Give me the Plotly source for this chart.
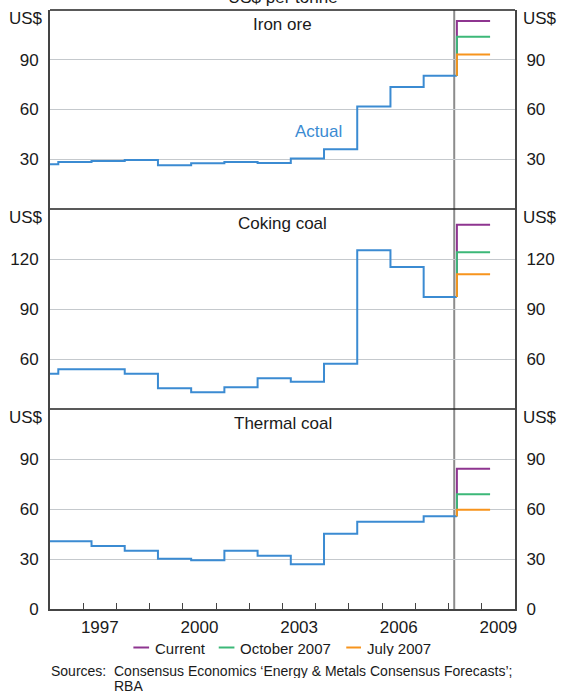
import plotly.graph_objects as go

# ---------------- data ----------------
fiscal_years = [1995, 1996, 1997, 1998, 1999, 2000, 2001, 2002, 2003, 2004, 2005, 2006, 2007]
forecast_year = 2008
current_date = 2008.17  # vertical line marking the present

iron_ore = [27.0, 28.4, 29.0, 29.6, 26.4, 27.6, 28.4, 27.8, 30.4, 36.0, 61.8, 73.6, 80.4]
coking_coal = [51.2, 53.8, 53.8, 51.2, 42.4, 40.0, 43.0, 48.4, 46.4, 57.2, 125.2, 115.2, 97.2]
thermal_coal = [40.6, 40.6, 37.8, 35.0, 30.2, 29.2, 35.0, 32.0, 26.8, 45.2, 52.4, 52.4, 55.6]

forecast_names = ["Current", "October 2007", "July 2007"]
forecast_colors = ["#8e3590", "#3cb878", "#f7941d"]
iron_ore_fc = [113.4, 103.8, 93.2]
coking_coal_fc = [140.6, 124.0, 110.8]
thermal_coal_fc = [84.2, 68.8, 59.6]

panel_titles = ["Iron ore", "Coking coal", "Thermal coal"]
panel_ranges = [[0, 120], [30, 150], [0, 120]]
panel_ticks = [[30, 60, 90], [60, 90, 120], [0, 30, 60, 90]]

x_label_years = [1997, 2000, 2003, 2006, 2009]
x_tick_years = list(range(1997, 2010))
x_range = [1996, 2010]

# ---------------- geometry ----------------
W, H = 565, 691
ml, mr, mt, mb = 49, 42, 10, 82
plot_h = H - mt - mb
plot_w = W - ml - mr
panel_px = [(10, 209), (209, 409), (409, 609)]


def py2paper(py):
    return (H - mb - py) / plot_h


def px2paper(px):
    return (px - ml) / plot_w


domains = [[py2paper(b), py2paper(t)] for (t, b) in panel_px]

ACTUAL = "#3b8bd2"
FONT = "Liberation Sans, Arial, sans-serif"
TXT = "#1a1a1a"
AX = "#444444"
GRID = "#c5c9cd"

fig = go.Figure()

series = [iron_ore, coking_coal, thermal_coal]
fcs = [iron_ore_fc, coking_coal_fc, thermal_coal_fc]
yrefs = ["y", "y2", "y3"]

for i in range(3):
    vals = series[i]
    xs = [fy + 0.25 for fy in fiscal_years] + [forecast_year + 0.25]
    ys = vals + [vals[-1]]
    fig.add_trace(go.Scatter(x=xs, y=ys, mode="lines", line=dict(color=ACTUAL, width=2, shape="hv"),
                             yaxis=yrefs[i], showlegend=False, hoverinfo="skip"))
    for k in range(3):
        fx = [forecast_year + 0.25, forecast_year + 0.25, forecast_year + 1.25]
        fy_ = [vals[-1], fcs[i][k], fcs[i][k]]
        fig.add_trace(go.Scatter(x=fx, y=fy_, mode="lines",
                                 line=dict(color=forecast_colors[k], width=2),
                                 yaxis=yrefs[i], showlegend=False, hoverinfo="skip"))
    # invisible trace for right-hand axis
    fig.add_trace(go.Scatter(x=[x_range[0]], y=[panel_ranges[i][0]], mode="markers",
                             marker=dict(opacity=0), yaxis="y%d" % (i + 4),
                             showlegend=False, hoverinfo="skip"))

layout = dict(
    width=W, height=H,
    margin=dict(l=ml, r=mr, t=mt, b=mb),
    paper_bgcolor="white", plot_bgcolor="white",
    font=dict(family=FONT, size=17, color=TXT),
    showlegend=False,
    hovermode=False,
    xaxis=dict(range=x_range, anchor="y3", showgrid=False, zeroline=False,
               showline=True, linecolor=AX, linewidth=2, fixedrange=True,
               tickmode="array", tickvals=[y + 0.5 for y in x_label_years],
               ticktext=[str(y) for y in x_label_years], ticks="",
               ticklabelstandoff=2,
               minor=dict(tickmode="array", tickvals=x_tick_years, ticks="inside",
                          ticklen=6, tickwidth=1, tickcolor=AX, showgrid=False)),
)

for i in range(3):
    base = "yaxis" if i == 0 else "yaxis%d" % (i + 1)
    common = dict(range=panel_ranges[i], domain=domains[i], tickmode="array",
                  tickvals=panel_ticks[i], ticktext=[str(v) for v in panel_ticks[i]],
                  zeroline=False, showline=True, linecolor=AX, linewidth=2,
                  ticks="", ticklabelstandoff=6, fixedrange=True)
    layout[base] = dict(common, anchor="x", side="left", showgrid=True,
                        gridcolor=GRID, gridwidth=1)
    layout["yaxis%d" % (i + 4)] = dict(common, anchor="x", side="right",
                                       overlaying="y" if i == 0 else "y%d" % (i + 1),
                                       showgrid=False)

fig.update_layout(**layout)

# panel borders (top and dividers)
for (t, b) in panel_px:
    fig.add_shape(type="line", xref="paper", yref="paper", x0=0, x1=1,
                  y0=py2paper(t), y1=py2paper(t), line=dict(color="#222222", width=1.5))

# vertical "now" line
fig.add_shape(type="line", xref="x", yref="paper", x0=current_date, x1=current_date,
              y0=0, y1=1, line=dict(color="#8c8c8c", width=2), layer="below")

annotations = []
# US$ unit labels
for (t, b) in panel_px:
    yy = py2paper(t)
    annotations.append(dict(text="US$", xref="paper", yref="paper", x=0, y=yy,
                            xanchor="right", yanchor="middle", xshift=-5, yshift=-8,
                            showarrow=False, font=dict(size=17)))
    annotations.append(dict(text="US$", xref="paper", yref="paper", x=1, y=yy,
                            xanchor="left", yanchor="middle", xshift=6, yshift=-8,
                            showarrow=False, font=dict(size=17)))
# panel titles
for i, (t, b) in enumerate(panel_px):
    annotations.append(dict(text=panel_titles[i], xref="paper", yref="paper", x=0.5,
                            y=py2paper(t), xanchor="center", yanchor="middle", yshift=-14,
                            showarrow=False, font=dict(size=17)))
# overall unit title (cut off at the top, as in the original)
annotations.append(dict(text="US$ per tonne", xref="paper", yref="paper", x=0.5, y=1,
                        xanchor="center", yanchor="bottom", yshift=1, showarrow=False,
                        font=dict(size=17)))
# Actual label
annotations.append(dict(text="Actual", xref="x", yref="y", x=2004.08, y=46.6,
                        xanchor="center", yanchor="middle", showarrow=False,
                        font=dict(size=17, color=ACTUAL)))

# manual legend
leg_y = py2paper(647.5)
leg_items = [(134, 150, 155), (221, 237, 242), (351, 366, 371)]
for k, (l0, l1, tx) in enumerate(leg_items):
    fig.add_shape(type="line", xref="paper", yref="paper", x0=px2paper(l0), x1=px2paper(l1),
                  y0=leg_y, y1=leg_y, line=dict(color=forecast_colors[k], width=2))
    annotations.append(dict(text=forecast_names[k], xref="paper", yref="paper",
                            x=px2paper(tx), y=leg_y, xanchor="left", yanchor="middle",
                            showarrow=False, borderpad=0, height=16, font=dict(size=15)))

# sources
src_rows = [670.5, 685.5]
annotations.append(dict(text="Sources:", xref="paper", yref="paper", x=px2paper(49),
                        y=py2paper(src_rows[0]), xanchor="left", yanchor="middle", showarrow=False,
                        borderpad=0, height=14, font=dict(size=14)))
annotations.append(dict(text="Consensus Economics \u2018Energy &amp; Metals Consensus Forecasts\u2019;",
                        xref="paper", yref="paper", x=px2paper(113), y=py2paper(src_rows[0]),
                        xanchor="left", yanchor="middle", showarrow=False, borderpad=0,
                        height=14, font=dict(size=14)))
annotations.append(dict(text="RBA", xref="paper", yref="paper", x=px2paper(113),
                        y=py2paper(src_rows[1]), xanchor="left", yanchor="middle", showarrow=False,
                        borderpad=0, height=14, font=dict(size=14)))

fig.update_layout(annotations=annotations)
fig.write_html("out.html", config={"displayModeBar": False, "staticPlot": True},
               post_script="document.body.style.margin='0';document.body.style.overflow='hidden';")
